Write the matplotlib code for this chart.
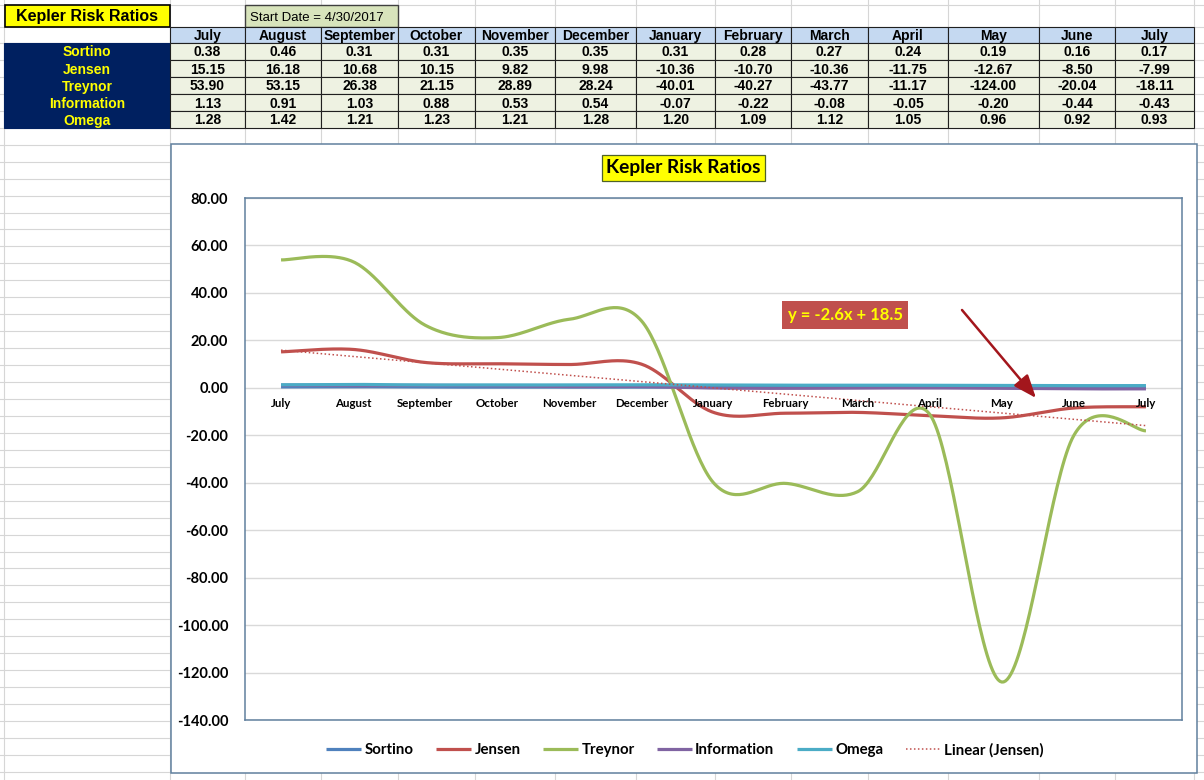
import numpy as np
import matplotlib
matplotlib.use('Agg')
import matplotlib.pyplot as plt
from matplotlib.patches import Rectangle

# ---------------- data ----------------
months = ['July', 'August', 'September', 'October', 'November', 'December',
          'January', 'February', 'March', 'April', 'May', 'June', 'July']
sortino = [0.38, 0.46, 0.31, 0.31, 0.35, 0.35, 0.31, 0.28, 0.27, 0.24, 0.19, 0.16, 0.17]
jensen = [15.15, 16.18, 10.68, 10.15, 9.82, 9.98, -10.36, -10.70, -10.36, -11.75, -12.67, -8.50, -7.99]
treynor = [53.90, 53.15, 26.38, 21.15, 28.89, 28.24, -40.01, -40.27, -43.77, -11.17, -124.00, -20.04, -18.11]
information = [1.13, 0.91, 1.03, 0.88, 0.53, 0.54, -0.07, -0.22, -0.08, -0.05, -0.20, -0.44, -0.43]
omega = [1.28, 1.42, 1.21, 1.23, 1.21, 1.28, 1.20, 1.09, 1.12, 1.05, 0.96, 0.92, 0.93]
series_names = ['Sortino', 'Jensen', 'Treynor', 'Information', 'Omega']
y_ticks = [80, 60, 40, 20, 0, -20, -40, -60, -80, -100, -120, -140]
sheet_title = 'Kepler Risk Ratios'
start_date_label = 'Start Date = 4/30/2017'
chart_title = 'Kepler Risk Ratios'
equation_label = 'y = -2.6x + 18.5'
trend_label = 'Linear (Jensen)'

# ---------------- style ----------------
colors = ['#4F81BD', '#C0504D', '#9BBB59', '#8064A2', '#4BACC6']
CH = ['Lato', 'DejaVu Sans']             # chart font (Calibri-like)
TB = ['Liberation Sans', 'DejaVu Sans']  # sheet font (Arial-like)
W, H = 1204, 780

fig = plt.figure(figsize=(W / 100, H / 100), dpi=100)
fig.patch.set_facecolor('white')

bg = fig.add_axes([0, 0, 1, 1])
bg.set_xlim(0, W)
bg.set_ylim(H, 0)
bg.axis('off')

# spreadsheet grid
col_x = [4, 170, 245, 321, 398, 475, 555, 636, 715, 791, 868, 948, 1039, 1115, 1194]
row_y = [5, 27] + list(np.arange(43, H, 16.95))
grid_c = '#D6D6D6'
for x in col_x:
    bg.plot([x, x], [0, H], color=grid_c, lw=0.8, zorder=1)
for y in row_y:
    bg.plot([0, W], [y, y], color=grid_c, lw=0.8, zorder=1)

# title box
bg.add_patch(Rectangle((5, 5), 165, 22, fc='#FFFF00', ec='black', lw=1.2, zorder=2))
bg.text(87.5, 21.5, sheet_title, ha='center', va='baseline', fontsize=11.5,
        fontweight='bold', family=TB, zorder=3)
# start date box
bg.add_patch(Rectangle((245, 5), 153, 22, fc='#D8E4BC', ec='#404040', lw=1.0, zorder=2))
bg.text(250, 21, start_date_label, ha='left', va='baseline', fontsize=9.5,
        family=TB, zorder=3)

# table
hdr_top, hdr_bot = 27, 43
data_rows = [43, 60, 77, 94, 111, 128]
all_series = [sortino, jensen, treynor, information, omega]
FS = 10
for j, m in enumerate(months):
    x0, x1 = col_x[j + 1], col_x[j + 2]
    bg.add_patch(Rectangle((x0, hdr_top), x1 - x0, hdr_bot - hdr_top,
                           fc='#C5D9F1', ec='#202020', lw=0.8, zorder=2))
    bg.text((x0 + x1) / 2, hdr_bot - 3.2, m, ha='center', va='baseline',
            fontsize=FS, fontweight='bold', family=TB, zorder=3)
for i, name in enumerate(series_names):
    y0, y1 = data_rows[i], data_rows[i + 1]
    bg.add_patch(Rectangle((col_x[0], y0), col_x[1] - col_x[0], y1 - y0,
                           fc='#002060', ec='#002060', lw=0.8, zorder=2))
    bg.text((col_x[0] + col_x[1]) / 2, y1 - 3.5, name, ha='center', va='baseline',
            fontsize=FS, fontweight='bold', color='#FFFF00', family=TB, zorder=3)
    for j, v in enumerate(all_series[i]):
        x0, x1 = col_x[j + 1], col_x[j + 2]
        bg.add_patch(Rectangle((x0, y0), x1 - x0, y1 - y0,
                               fc='#EEF2E2', ec='#202020', lw=0.8, zorder=2))
        bg.text((x0 + x1) / 2, y1 - 3.5, f'{v:.2f}', ha='center', va='baseline',
                fontsize=FS, fontweight='bold', family=TB, zorder=3)

# chart area
border_c = '#60809E'
bg.add_patch(Rectangle((171, 144), 1026, 629, fc='white', ec=border_c, lw=1.1, zorder=2.5))
bg.text(683.5, 168, chart_title, ha='center', va='center', fontsize=13.8, fontweight='bold',
        family=CH, zorder=4,
        bbox=dict(boxstyle='square,pad=0.22', fc='#FFFF00', ec='#4F6228', lw=0.9))

# plot area
L, T, R, B = 245, 198, 1182, 720
ax = fig.add_axes([L / W, 1 - B / H, (R - L) / W, (B - T) / H])
ax.set_facecolor('none')
ax.set_xlim(-0.5, len(months) - 0.5)
ax.set_ylim(-140, 80)
ax.set_yticks(y_ticks)
ax.set_yticklabels([f'{v:.2f}' for v in y_ticks], fontsize=10.5, fontweight='bold', family=CH)
ax.tick_params(axis='y', length=0, pad=12)
ax.set_xticks([])
ax.yaxis.grid(True, color='#D9D9D9', lw=1.0)
ax.set_axisbelow(True)
for s in ax.spines.values():
    s.set_color(border_c)
    s.set_linewidth(1.1)


def smooth(vals, n=40):
    y = np.asarray(vals, float)
    x = np.arange(len(y), dtype=float)
    P = np.column_stack([x, y])
    Pe = np.vstack([P[0], P, P[-1]])
    t = np.linspace(0, 1, n)[:, None]
    out = []
    for k in range(len(P) - 1):
        p0, p1, p2, p3 = Pe[k], Pe[k + 1], Pe[k + 2], Pe[k + 3]
        c1 = p1 + (p2 - p0) / 6
        c2 = p2 - (p3 - p1) / 6
        seg = (1 - t) ** 3 * p1 + 3 * (1 - t) ** 2 * t * c1 + 3 * (1 - t) * t ** 2 * c2 + t ** 3 * p2
        out.append(seg if k == 0 else seg[1:])
    return np.vstack(out)


handles = []
for name, vals, c in zip(series_names, all_series, colors):
    pts = smooth(vals)
    ln, = ax.plot(pts[:, 0], pts[:, 1], color=c, lw=2.3, solid_capstyle='butt', label=name)
    handles.append(ln)

xs = np.arange(len(months))
coef = np.polyfit(xs + 1, jensen, 1)
tr, = ax.plot(xs, np.polyval(coef, xs + 1), color='#C0504D', lw=1.1,
              linestyle=(0, (1, 1.6)), label=trend_label)
handles.append(tr)

# category labels at the zero line
for i, m in enumerate(months):
    ax.annotate(m, xy=(i, 0), xytext=(0, -11), textcoords='offset points',
                ha='center', va='center', fontsize=8.3, fontweight='bold', family=CH)

# equation box and arrow
ax.text(845, 315, equation_label, transform=bg.transData, ha='center', va='center',
        fontsize=12, fontweight='bold', color='#FFFF00', family=CH, zorder=6,
        bbox=dict(boxstyle='square,pad=0.35', fc='#C0504D', ec='none'))
ax.annotate('', xy=(1036, 398), xycoords=bg.transData, xytext=(962, 310),
            textcoords=bg.transData, annotation_clip=False, zorder=6,
            arrowprops=dict(arrowstyle='-|>,head_length=1.4,head_width=0.55',
                            color='#A3161C', lw=1.8, shrinkA=0, shrinkB=0))

fig.legend(handles, [h.get_label() for h in handles], loc='center',
           bbox_to_anchor=(685 / W, 1 - 750 / H), ncol=6, frameon=False,
           prop=dict(family=CH, weight='bold', size=10.8),
           handlelength=2.3, handletextpad=0.25, columnspacing=1.5)

fig.savefig('out.png', dpi=100, facecolor='white')
